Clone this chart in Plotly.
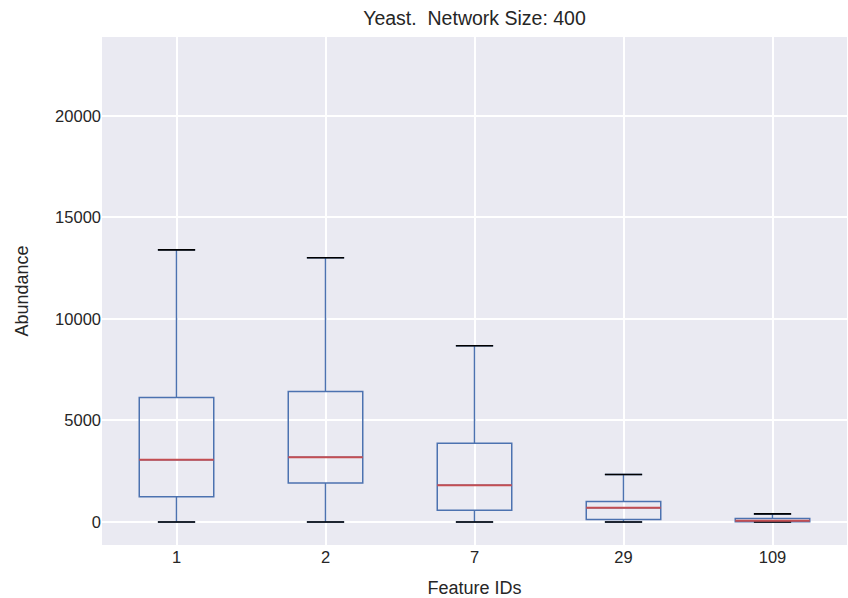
import plotly.graph_objects as go

categories = ["1", "2", "7", "29", "109"]
q1 = [1249, 1917, 580, 120, 10]
median = [3068, 3196, 1810, 710, 60]
q3 = [6131, 6426, 3880, 1010, 170]
lower = [0, 0, 0, 0, 0]
upper = [13400, 13014, 8680, 2340, 400]
y_ticks = [0, 5000, 10000, 15000, 20000]

BLUE = "#4C72B0"
RED = "#C44E52"
TXT = "#262626"
FONT = "'Liberation Sans', Arial, sans-serif"

pos = list(range(len(categories)))
box_w = 0.5

fig = go.Figure()
fig.add_trace(go.Box(
    x=pos, q1=q1, median=median, q3=q3, lowerfence=lower, upperfence=upper,
    width=box_w, whiskerwidth=0.5,
    line=dict(color=BLUE, width=1.5), fillcolor="rgba(0,0,0,0)",
    boxpoints=False, hoverinfo="skip", showlegend=False,
))

cx, cy = [], []
mx, my = [], []
for i in pos:
    for v in (lower[i], upper[i]):
        cx += [i - box_w / 4, i + box_w / 4, None]
        cy += [v, v, None]
    mx += [i - box_w / 2, i + box_w / 2, None]
    my += [median[i], median[i], None]

fig.add_trace(go.Scatter(x=cx, y=cy, mode="lines", line=dict(color="black", width=1.6),
                         hoverinfo="skip", showlegend=False))
fig.add_trace(go.Scatter(x=mx, y=my, mode="lines", line=dict(color=RED, width=2),
                         hoverinfo="skip", showlegend=False))

fig.update_layout(
    width=848, height=598,
    margin=dict(l=102, r=1, t=37, b=53),
    paper_bgcolor="white", plot_bgcolor="#EAEAF2",
    font=dict(family=FONT, color=TXT, size=16.5),
    title=dict(text="Yeast.  Network Size: 400", x=(102 + 847) / 2 / 848, xanchor="center",
               y=1 - 18 / 598, yanchor="middle", font=dict(size=19.5, color=TXT)),
    xaxis=dict(
        range=[-0.5, len(categories) - 0.5], tickvals=pos, ticktext=categories,
        showgrid=True, gridcolor="white", gridwidth=1.5, zeroline=False, showline=False,
        ticks="", title=dict(text="Feature IDs", font=dict(size=18), standoff=17),
    ),
    yaxis=dict(
        range=[-1130, 23880], tickvals=y_ticks, tickformat="d",
        showgrid=True, gridcolor="white", gridwidth=1.5, zeroline=False, showline=False,
        ticks="", title=dict(text="Abundance", font=dict(size=18), standoff=21),
    ),
)

fig.write_html("out.html")
